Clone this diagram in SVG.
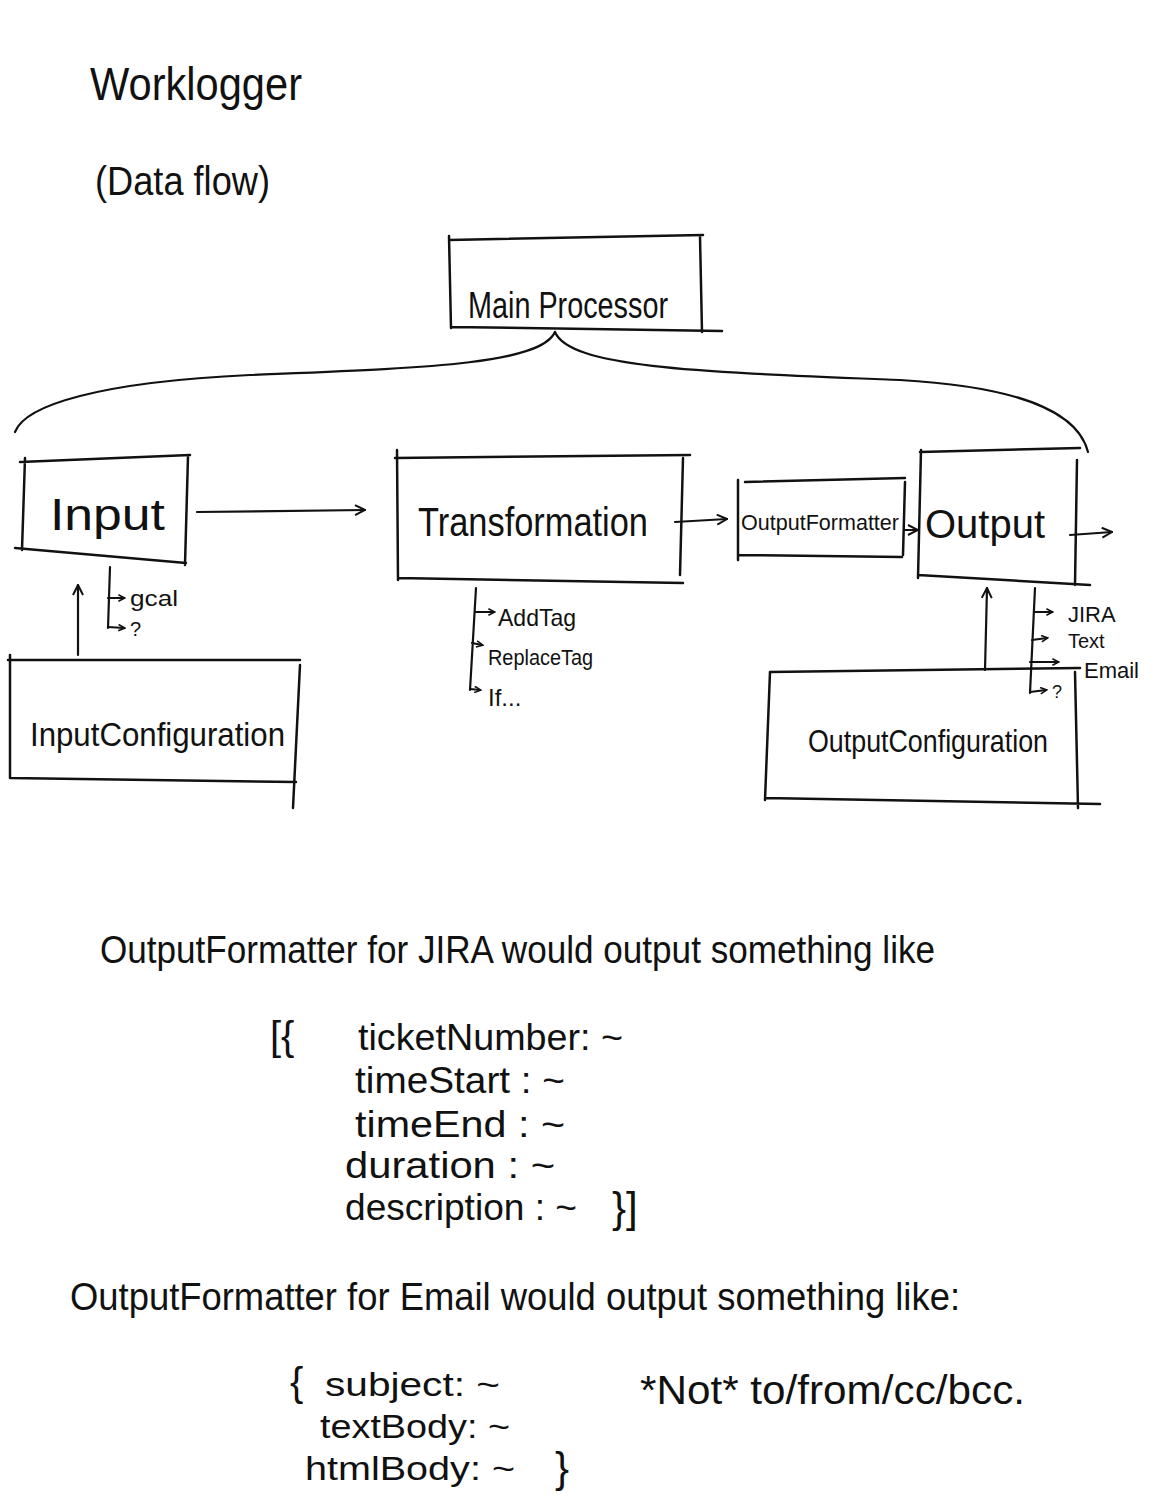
<svg xmlns="http://www.w3.org/2000/svg" width="1169" height="1508" viewBox="0 0 1169 1508">
<defs>
<marker id="ah" viewBox="0 0 12 12" refX="11" refY="6" markerWidth="12" markerHeight="12" markerUnits="userSpaceOnUse" orient="auto">
<path d="M1,1 L11,6 L1,11" fill="none" stroke="#111" stroke-width="2"/>
</marker>
<marker id="dot" viewBox="0 0 10 10" refX="8" refY="5" markerWidth="8" markerHeight="8" markerUnits="userSpaceOnUse" orient="auto">
<path d="M1,1 L9,5 L1,9" fill="none" stroke="#111" stroke-width="2"/>
</marker>
</defs>
<style>
.box{fill:none;stroke:#111;stroke-width:2.5;stroke-linecap:round}
.ln{fill:none;stroke:#111;stroke-width:2.2;stroke-linecap:round}
.t{font-family:"Liberation Sans",Arial,sans-serif;fill:#111}
</style>
<rect width="1169" height="1508" fill="#fff"/>

<g id="title">
<text class="t" x="90" y="100" font-size="46" textLength="212" lengthAdjust="spacingAndGlyphs">Worklogger</text>
<text class="t" x="95" y="195" font-size="40" textLength="175" lengthAdjust="spacingAndGlyphs">(Data flow)</text>
</g>

<g id="main-processor">
<path class="box" d="M449,240 L703,235 M449,236 L451,328 M700,236 L702,332 M451,327 L722,331"/>
<text class="t" x="468" y="318" font-size="36" textLength="200" lengthAdjust="spacingAndGlyphs">Main Processor</text>
</g>

<g id="input">
<path class="box" d="M20,462 L190,455 M25,458 L22,550 M188,456 L185,565 M15,548 L186,563"/>
<text class="t" x="50" y="530" font-size="44" textLength="115" lengthAdjust="spacingAndGlyphs">Input</text>
</g>

<g id="transformation">
<path class="box" d="M395,458 L690,455 M397,450 L398,580 M683,458 L680,575 M398,578 L683,583"/>
<text class="t" x="418" y="536" font-size="40" textLength="230" lengthAdjust="spacingAndGlyphs">Transformation</text>
</g>

<g id="outputformatter">
<path class="box" d="M745,482 L905,478 M738,480 L738,560 M905,482 L903,555 M738,555 L902,557"/>
<text class="t" x="741" y="530" font-size="22" textLength="158" lengthAdjust="spacingAndGlyphs">OutputFormatter</text>
</g>

<g id="output">
<path class="box" d="M920,452 L1080,448 M921,450 L918,578 M1077,460 L1075,585 M918,575 L1090,585"/>
<text class="t" x="925" y="538" font-size="40" textLength="120" lengthAdjust="spacingAndGlyphs">Output</text>
</g>

<g id="inputconfiguration">
<path class="box" d="M8,660 L300,660 M10,655 L10,778 M300,665 L293,808 M10,778 L296,782"/>
<text class="t" x="30" y="746" font-size="34" textLength="255" lengthAdjust="spacingAndGlyphs">InputConfiguration</text>
</g>

<g id="outputconfiguration">
<path class="box" d="M770,672 L1080,668 M770,672 L765,800 M1075,672 L1078,808 M765,798 L1100,804"/>
<text class="t" x="808" y="752" font-size="32" textLength="240" lengthAdjust="spacingAndGlyphs">OutputConfiguration</text>
</g>

<g id="input-sources">
<path class="ln" d="M110,567 L108,628"/>
<path class="ln" d="M108,598 L124,598" marker-end="url(#dot)"/>
<path class="ln" d="M108,627 L124,628" marker-end="url(#dot)"/>
<text class="t" x="130" y="606" font-size="22" textLength="48" lengthAdjust="spacingAndGlyphs">gcal</text>
<text class="t" x="130" y="636" font-size="20">?</text>
</g>

<g id="transformation-steps">
<path class="ln" d="M476,588 L470,690"/>
<path class="ln" d="M475,612 L494,612" marker-end="url(#dot)"/>
<path class="ln" d="M472,643 L482,645" marker-end="url(#dot)"/>
<path class="ln" d="M470,689 L480,690" marker-end="url(#dot)"/>
<text class="t" x="498" y="626" font-size="24" textLength="78" lengthAdjust="spacingAndGlyphs">AddTag</text>
<text class="t" x="488" y="665" font-size="22" textLength="105" lengthAdjust="spacingAndGlyphs">ReplaceTag</text>
<text class="t" x="488" y="706" font-size="24">If...</text>
</g>

<g id="output-targets">
<path class="ln" d="M1035,588 L1030,693"/>
<path class="ln" d="M1034,612 L1052,612" marker-end="url(#dot)"/>
<path class="ln" d="M1032,640 L1047,638" marker-end="url(#dot)"/>
<path class="ln" d="M1030,662 L1058,662" marker-end="url(#dot)"/>
<path class="ln" d="M1030,692 L1046,690" marker-end="url(#dot)"/>
<text class="t" x="1068" y="622" font-size="22">JIRA</text>
<text class="t" x="1068" y="648" font-size="20">Text</text>
<text class="t" x="1084" y="678" font-size="22">Email</text>
<text class="t" x="1052" y="698" font-size="18">?</text>
</g>

<g id="connectors">
<path class="ln" d="M555,332 C540,365 420,368 250,375 C100,382 25,405 15,432"/>
<path class="ln" d="M555,332 C570,368 700,372 900,380 C1040,388 1080,420 1088,452"/>
<path class="ln" d="M197,512 L365,510" marker-end="url(#ah)"/>
<path class="ln" d="M675,522 L727,519" marker-end="url(#ah)"/>
<path class="ln" d="M905,530 L918,530" marker-end="url(#ah)"/>
<path class="ln" d="M1070,535 L1112,532" marker-end="url(#ah)"/>
<path class="ln" d="M78,655 L78,585" marker-end="url(#ah)"/>
<path class="ln" d="M985,670 L987,588" marker-end="url(#ah)"/>
</g>

<g id="notes">
<text class="t" x="100" y="963" font-size="38" textLength="835" lengthAdjust="spacingAndGlyphs">OutputFormatter for JIRA would output something like</text>
<text class="t" x="270" y="1050" font-size="40">[{</text>
<text class="t" x="358" y="1050" font-size="36" textLength="265" lengthAdjust="spacingAndGlyphs">ticketNumber: ~</text>
<text class="t" x="355" y="1093" font-size="36" textLength="210" lengthAdjust="spacingAndGlyphs">timeStart : ~</text>
<text class="t" x="355" y="1137" font-size="36" textLength="210" lengthAdjust="spacingAndGlyphs">timeEnd : ~</text>
<text class="t" x="345" y="1178" font-size="36" textLength="210" lengthAdjust="spacingAndGlyphs">duration : ~</text>
<text class="t" x="345" y="1220" font-size="36" textLength="232" lengthAdjust="spacingAndGlyphs">description : ~</text>
<text class="t" x="612" y="1222" font-size="42">}]</text>
<text class="t" x="70" y="1310" font-size="38" textLength="890" lengthAdjust="spacingAndGlyphs">OutputFormatter for Email would output something like:</text>
<text class="t" x="290" y="1396" font-size="40">{</text>
<text class="t" x="325" y="1396" font-size="34" textLength="175" lengthAdjust="spacingAndGlyphs">subject: ~</text>
<text class="t" x="320" y="1438" font-size="34" textLength="190" lengthAdjust="spacingAndGlyphs">textBody: ~</text>
<text class="t" x="305" y="1480" font-size="34" textLength="210" lengthAdjust="spacingAndGlyphs">htmlBody: ~</text>
<text class="t" x="555" y="1482" font-size="42">}</text>
<text class="t" x="640" y="1404" font-size="40" textLength="385" lengthAdjust="spacingAndGlyphs">*Not* to/from/cc/bcc.</text>
</g>
</svg>
